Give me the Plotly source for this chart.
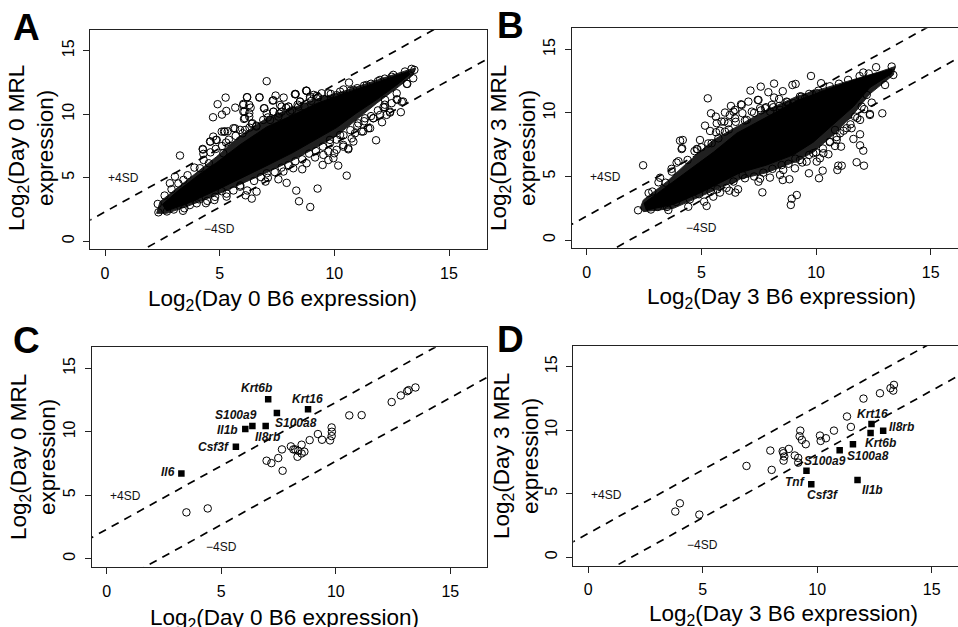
import plotly.graph_objects as go

W, H = 958, 627
TICKS = [0, 5, 10, 15]

# Solid black core outlines: upper edge then lower edge
a_core_x = [2.5,3.13,4.14,4.87,5.89,7.05,8.21,9.23,10.39,11.41,12.43,13.2,13.3,12.72,11.85,10.97,10.1,9.23,8.21,7.05,5.89,4.72,3.56,2.69]
a_core_y = [2.9,3.9,5.3,6.2,7.6,9.0,9.95,10.85,11.6,12.25,12.85,13.35,13.15,12.3,11.15,10.1,8.95,8.05,7.0,5.95,4.9,3.9,2.95,2.4]
b_core_x = [2.5,3.49,4.36,5.52,6.54,7.7,9.16,10.47,11.77,12.79,13.3,13.3,12.35,11.63,10.76,9.88,9.01,7.85,6.69,5.81,4.94,3.78,2.6]
b_core_y = [2.9,4.2,5.4,6.9,8.4,9.55,10.95,11.85,12.65,13.2,13.45,13.1,12.0,10.5,9.1,7.7,6.7,5.9,5.3,4.5,3.7,2.8,2.35]

# Outer outlines of the crowded, speckled fringe round each core
a_fringe_x = [2.4,3.13,4.14,4.87,5.89,7.05,8.21,9.23,10.39,11.41,12.43,13.23,13.52,13.44,12.72,11.85,10.97,10.1,9.23,8.21,7.05,5.89,4.72,3.56,2.69,2.25]
a_fringe_y = [3.12,4.17,5.62,6.67,8.3,9.7,10.5,11.2,11.8,12.44,13.02,13.49,13.62,13.1,12.05,10.87,9.6,8.3,7.4,6.4,5.4,4.45,3.55,2.73,2.2,2.2]
b_fringe_x = [2.33,2.47,3.49,4.36,5.52,6.54,7.7,9.16,10.47,11.77,12.79,13.44,13.37,12.35,11.63,10.76,9.88,9.01,7.85,6.69,5.81,4.94,3.78,2.47]
b_fringe_y = [2.49,3.15,4.59,6.04,7.87,8.92,10.1,11.3,12.0,12.73,13.25,13.65,12.99,11.5,9.9,8.3,6.9,6.1,5.3,4.8,4.1,3.35,2.49,2.23]

# Individually visible genes, panel A
a_x = [7.05,3.27,10.54,9.27,8.95,8.46,8.34,7.92,7.56,7.0,11.82,12.9,12.94,12.08,10.64,5.26,4.91,5.29,5.68,4.71,5.1,6.19,6.03,6.03,6.35,6.1,6.29,6.74,6.95,7.34,7.44,7.79,8.31,8.79,7.7,8.0,8.5,8.94,9.23,9.74,10.25,4.27,4.29,4.72,4.58,4.87,5.19,5.35,5.6,5.89,6.4,4.53,4.14,3.05,2.83,3.42,6.4,6.13,5.3,4.77,4.46,5.09,6.61,5.89,7.05,7.78,8.21,8.6,8.79,9.49,9.96,10.17,9.74,10.0,10.61,10.83,10.39,11.26,11.56,11.7,12.28,12.43,12.14,12.72,13.18,13.44,13.49,13.37,13.08,2.33,2.3,3.46,4.0,12.57,11.99,11.41,10.83,
       7.1,7.35,7.6,7.9,8.15,8.4,8.7,9.0,9.3,9.55,9.85,10.1,10.4,10.7,11.0,11.3,11.6,11.9,12.2,12.5,6.0,6.3,6.6,6.9,5.1,5.4,5.7,4.3,4.6,3.6,3.9,2.6,2.9,3.2,
       8.9,9.2,9.5,9.8,10.1,10.4,10.7,11.0,11.3,11.6,11.9,12.2,8.0,8.3,8.6,7.1,7.4,7.7,6.2,6.5,6.8,5.3,5.6,5.9,4.4,4.8,3.4,3.7,4.1,2.7,3.0,
       12.43,12.2,12.72,12.75,13.0,13.16,8.28,8.79,11.7,11.48,11.19,10.9,10.61,10.39,10.1,9.74,9.52,9.16,10.76,11.05,11.34,12.0,12.21,12.5,9.81,10.25,
       5.23,5.09,6.2,6.03,6.29,6.08,6.06,6.29,6.43,6.73,6.93,7.31,8.3,8.77,9.1,9.45,5.67,6.11,4.6,4.84,5.28,4.26,4.83,5.16,7.63,8.0,8.5,8.94,7.05,7.34,7.7,8.07,8.43,7.2,7.56,6.6]
a_y = [12.6,6.75,5.17,4.15,2.7,3.15,3.99,4.6,4.88,4.7,7.95,10.16,10.97,9.37,12.49,11.31,10.79,10.26,10.52,9.76,9.97,11.34,10.81,10.21,10.52,9.69,10.08,11.34,10.47,11.1,11.47,11.31,11.57,11.84,10.6,10.6,11.0,11.39,11.44,11.65,11.78,7.22,6.88,8.24,7.85,7.98,8.64,8.66,8.9,8.77,9.24,6.14,5.75,5.09,4.57,4.83,3.36,3.62,3.52,3.25,3.18,3.94,3.91,4.3,5.35,5.49,5.75,5.67,6.14,6.01,6.54,5.96,6.4,6.93,7.24,7.85,7.45,8.64,8.9,9.69,9.95,10.13,10.55,11.18,12.39,12.83,13.49,13.57,13.36,2.28,2.94,2.6,2.99,13.1,12.7,12.3,11.92,
       9.75,10.2,10.05,10.5,10.3,10.75,10.6,11.05,11.35,11.2,11.6,11.5,11.95,11.85,12.05,12.25,12.4,12.6,12.8,12.95,8.5,8.95,9.1,9.55,7.5,8.0,8.3,6.4,7.0,5.2,5.8,3.6,4.1,4.55,
       6.9,7.1,7.45,7.7,8.0,8.35,8.75,9.1,9.45,9.85,10.3,10.75,6.0,6.3,6.45,5.0,5.45,5.8,4.0,4.75,5.05,3.75,4.0,4.4,3.0,3.5,2.4,2.85,3.3,2.35,2.5,
       10.2,10.55,11.65,11.13,11.0,12.39,11.57,11.84,9.68,8.9,8.64,8.5,7.32,7.58,7.2,7.07,6.8,6.6,8.1,9.28,9.68,9.95,11.13,10.87,7.98,8.37,
       8.63,8.63,11.34,10.73,10.73,10.2,9.63,9.81,9.29,11.31,10.47,11.07,11.6,11.86,11.52,11.65,8.89,8.76,7.85,7.98,7.77,7.27,7.27,6.93,10.73,10.6,10.99,11.25,10.08,10.2,10.2,10.2,10.6,9.55,9.81,9.03]

# Individually visible genes, panel B
b_x = [2.46,5.28,5.42,5.63,5.16,5.38,5.64,6.03,6.0,6.4,6.76,7.05,7.14,7.59,7.92,8.17,7.49,8.17,8.55,8.97,9.11,9.78,10.22,8.72,7.78,8.14,4.07,4.19,4.16,4.94,4.83,3.92,3.71,3.13,3.44,2.86,12.62,12.06,12.89,12.35,12.43,11.92,11.63,11.92,12.06,11.77,12.09,11.12,10.93,10.97,10.29,10.13,9.69,10.54,11.09,9.16,8.94,8.9,7.66,6.6,6.48,6.22,5.23,5.12,4.43,3.56,2.24,7.49,7.99,8.55,8.84,8.43,7.56,6.9,5.52,5.81,13.37,13.01,13.3,
       6.2,6.5,6.9,7.3,7.6,8.0,8.4,8.8,9.3,9.7,10.1,10.6,11.0,11.4,11.9,12.3,5.0,5.3,5.8,4.4,4.7,3.2,3.7,4.0,2.7,
       9.4,9.7,10.0,10.3,10.6,10.9,11.2,11.5,11.8,12.1,8.5,8.8,9.1,7.3,7.7,8.1,6.1,6.4,6.8,5.4,5.7,4.5,4.9,3.5,3.9,4.2,2.8,3.1,
       8.39,7.46,8.75,6.73,6.29,4.8,4.14,6.47,6.79,7.2,7.56,7.82,8.07,5.88,6.17,6.47,6.98,5.74,5.45,6.03,6.24,5.67,8.43,9.02,9.52,10.03,9.37,
       12.35,10.83,10.9,10.61,10.17,9.88,9.59,9.3,8.57,9.08,11.55,11.34,11.92,11.7,11.05,10.83,11.99,12.21,10.32,10.03]
b_y = [5.88,11.15,9.97,9.71,9.0,8.58,8.48,10.03,9.32,10.1,10.63,10.89,11.76,12.07,11.63,12.31,11.02,11.21,11.71,12.2,12.28,12.91,12.34,10.89,10.37,10.45,7.82,7.87,7.22,7.87,7.14,6.09,5.38,4.54,4.51,3.81,13.6,13.18,9.97,9.92,10.81,8.32,7.95,7.45,7.03,6.12,5.85,5.85,5.51,5.85,5.46,4.86,5.25,6.75,7.35,3.54,3.25,2.76,3.75,3.99,3.73,3.88,2.68,3.02,2.62,2.36,2.34,4.59,4.91,4.72,4.78,5.12,4.83,4.86,3.41,3.73,12.99,12.2,13.65,
      8.7,9.3,9.4,10.0,10.2,10.1,10.55,10.6,11.3,11.5,11.75,12.1,12.3,12.6,12.9,13.1,7.3,7.6,8.6,6.3,7.0,4.9,5.6,6.2,3.7,
      6.1,6.7,6.9,7.2,7.7,8.1,8.6,9.1,9.6,10.3,5.9,6.0,6.4,5.0,5.3,5.6,4.1,4.6,5.1,3.8,4.0,3.2,3.6,2.6,3.0,3.5,2.4,2.6,
      11.1,11.02,10.84,10.68,10.55,7.16,7.16,10.24,9.98,10.1,10.37,10.45,10.63,9.32,9.19,9.58,9.45,8.0,7.62,8.53,9.84,9.19,10.24,10.76,11.15,11.55,11.29,
      9.84,7.4,7.87,7.74,6.43,6.83,6.17,6.3,5.51,5.64,8.8,8.8,9.45,9.71,8.4,8.66,10.5,11.42,6.83,6.17]

# Panel C
c_x = [3.48,4.41,6.98,7.19,7.49,7.68,7.65,8.04,8.15,8.23,8.36,8.33,8.51,8.51,8.63,8.86,9.22,9.4,9.75,9.82,9.83,9.82,10.59,11.13,12.44,12.84,13.12,13.18,13.48]
c_y = [3.65,3.96,7.72,7.53,7.93,6.93,8.61,8.85,8.61,8.61,8.5,8.03,8.98,8.29,8.43,9.34,9.82,9.37,9.32,9.66,10.0,10.34,11.29,11.31,12.34,12.86,13.2,13.28,13.49]
c_sq_x = [3.26,5.64,6.05,6.36,6.94,7.43,7.05,8.79]
c_sq_y = [6.72,8.82,10.21,10.45,10.45,11.47,12.57,11.78]
c_labels = ["Krt6b","Krt16","S100a9","S100a8","Il1b","Il8rb","Csf3f","Il6"]
c_label_x = [6.55,8.77,5.63,8.26,5.27,7.04,4.67,2.68]
c_label_y = [13.44,12.62,11.29,10.66,10.16,9.55,8.82,6.8]

# Panel D
d_x = [3.8,4.0,4.85,6.91,8.01,7.95,8.49,8.52,8.56,8.53,8.76,9.02,9.17,9.17,9.26,9.23,9.33,9.5,10.12,10.15,10.38,10.73,11.47,11.3,12.02,12.74,13.2,13.32,13.35]
d_y = [3.6,4.25,3.36,7.19,6.88,8.4,8.35,8.19,7.93,7.61,8.53,8.01,7.82,7.45,9.97,9.53,9.24,8.9,9.58,9.16,9.37,9.97,10.26,11.08,12.49,12.91,13.31,13.12,13.57]
d_sq_x = [9.53,9.74,11.76,10.98,11.56,12.33,12.37,12.88]
d_sq_y = [6.82,5.75,6.09,8.43,8.9,9.79,10.5,9.95]
d_labels = ["Krt16","Il8rb","Krt6b","S100a8","S100a9","Tnf","Csf3f","Il1b"]
d_label_x = [12.42,13.68,12.77,12.21,10.32,9.02,10.23,12.42]
d_label_y = [11.26,10.26,9.0,8.0,7.59,5.96,4.91,5.28]

line_x = [-2, 18]
sd_offset_day0 = 2.32
sd_offset_day3 = 1.88

# pixel layout: x0, x15, y0, y15, left, right, top, bottom
P = {
    "":  (105.0, 449.0, 241.3, 50.7, 90.3, 486.5, 30.0, 249.3),
    "2": (586.7, 930.7, 240.0, 49.4, 571.7, 958.0, 28.3, 248.3),
    "3": (106.7, 450.3, 558.7, 368.3, 91.7, 487.0, 347.3, 567.3),
    "4": (588.3, 931.7, 557.3, 366.7, 573.3, 958.0, 345.7, 565.7),
}
FONT = "Liberation Sans, Arial, sans-serif"
INK = "#222222"
fig = go.Figure()
layout = dict(width=W, height=H, margin=dict(l=0, r=0, t=0, b=0), autosize=False,
              paper_bgcolor="white", plot_bgcolor="white", showlegend=False,
              font=dict(family=FONT, color="black"))
ann = []

def px_ann(x, y, text, size, angle=0, **kw):
    ann.append(dict(x=x / W, y=1 - y / H, xref="paper", yref="paper", text=text, showarrow=False,
                    textangle=angle, font=dict(size=size, family=FONT, color="black"),
                    xanchor="center", yanchor="middle", align="center", **kw))

for key, (x0, x15, y0, y15, l, r, t, b) in P.items():
    ux = (x15 - x0) / 15
    uy = (y0 - y15) / 15
    layout["xaxis" + key] = dict(domain=[l / W, r / W], range=[(l - x0) / ux, (r - x0) / ux],
        tickvals=TICKS, ticks="outside", ticklen=6, tickwidth=1, tickcolor=INK, linecolor=INK, linewidth=1,
        mirror=True, showgrid=False, zeroline=False, tickfont=dict(size=16, family=FONT),
        anchor="y" + key, ticklabelstandoff=3)
    layout["yaxis" + key] = dict(domain=[1 - b / H, 1 - t / H], range=[(y0 - b) / uy, (y0 - t) / uy],
        tickvals=TICKS, ticks="outside", ticklen=6, tickwidth=1, tickcolor=INK, linecolor=INK, linewidth=1,
        mirror=(key in ("", "3")), showgrid=False, zeroline=False, tickfont=dict(size=16, family=FONT),
        tickangle=-90, anchor="x" + key, ticklabelstandoff=3)

def sd_lines(key, off):
    for s in (1, -1):
        fig.add_trace(go.Scatter(x=line_x, y=[v + s * off for v in line_x], mode="lines",
                                 line=dict(color="black", width=1.7, dash="8px,6.5px"),
                                 xaxis="x" + key, yaxis="y" + key, hoverinfo="skip"))

def circles(key, xs, ys):
    fig.add_trace(go.Scatter(x=xs, y=ys, mode="markers", xaxis="x" + key, yaxis="y" + key,
                             marker=dict(symbol="circle-open", size=7.5, color="black", line=dict(width=1, color="black"))))

def core(key, xs, ys, colour):
    fig.add_trace(go.Scatter(x=xs + xs[:1], y=ys + ys[:1], mode="lines", fill="toself", fillcolor=colour,
                             line=dict(color=colour, width=1), xaxis="x" + key, yaxis="y" + key, hoverinfo="skip"))

def squares(key, xs, ys):
    fig.add_trace(go.Scatter(x=xs, y=ys, mode="markers", xaxis="x" + key, yaxis="y" + key,
                             marker=dict(symbol="square", size=6.5, color="black", line=dict(width=0))))

def data_ann(key, x, y, text, size):
    ann.append(dict(x=x, y=y, xref="x" + key, yref="y" + key, text=text, showarrow=False,
                    font=dict(size=size, family=FONT, color="#111111"), xanchor="center", yanchor="middle"))

def sd_text(key, yp):
    data_ann(key, 0.8, yp, "+4SD", 12)
    data_ann(key, 4.99, 0.93, "\u22124SD", 12)

FRINGE = "#202020"
sd_lines("", sd_offset_day0); core("", a_fringe_x, a_fringe_y, FRINGE); core("", a_core_x, a_core_y, "black"); circles("", a_x, a_y); sd_text("", 4.96)
sd_lines("2", sd_offset_day3); core("2", b_fringe_x, b_fringe_y, FRINGE); core("2", b_core_x, b_core_y, "black"); circles("2", b_x, b_y); sd_text("2", 4.96)
sd_lines("3", sd_offset_day0); circles("3", c_x, c_y); squares("3", c_sq_x, c_sq_y); sd_text("3", 4.94)
sd_lines("4", sd_offset_day3); circles("4", d_x, d_y); squares("4", d_sq_x, d_sq_y); sd_text("4", 4.93)

for t, x, y in zip(c_labels, c_label_x, c_label_y):
    data_ann("3", x, y, f"<b><i>{t}</i></b>", 12)
for t, x, y in zip(d_labels, d_label_x, d_label_y):
    data_ann("4", x, y, f"<b><i>{t}</i></b>", 12)

# panel letters
for letter, x, y in [("A", 26, 27), ("B", 511, 26), ("C", 26, 340), ("D", 511, 339)]:
    px_ann(x, y, f"<b>{letter}</b>", 37)

# axis titles
SUB = "Log<sub>2</sub>"
TS = 22.5
px_ann(282, 300, f"{SUB}(Day 0 B6 expression)", TS)
px_ann(781, 298, f"{SUB}(Day 3 B6 expression)", TS)
px_ann(284, 619, f"{SUB}(Day 0 B6 expression)", TS)
px_ann(783, 615, f"{SUB}(Day 3 B6 expression)", TS)
px_ann(31, 148, f"{SUB}(Day 0 MRL<br>expression)", TS, angle=-90)
px_ann(513, 148, f"{SUB}(Day 3 MRL<br>expression)", TS, angle=-90)
px_ann(33, 457, f"{SUB}(Day 0 MRL<br>expression)", TS, angle=-90)
px_ann(516, 456, f"{SUB}(Day 3 MRL<br>expression)", TS, angle=-90)

layout["annotations"] = ann
fig.update_layout(**layout)
fig.write_html("out.html", config=dict(displayModeBar=False),
               post_script="document.body.style.margin='0';document.documentElement.style.overflow='hidden';")
